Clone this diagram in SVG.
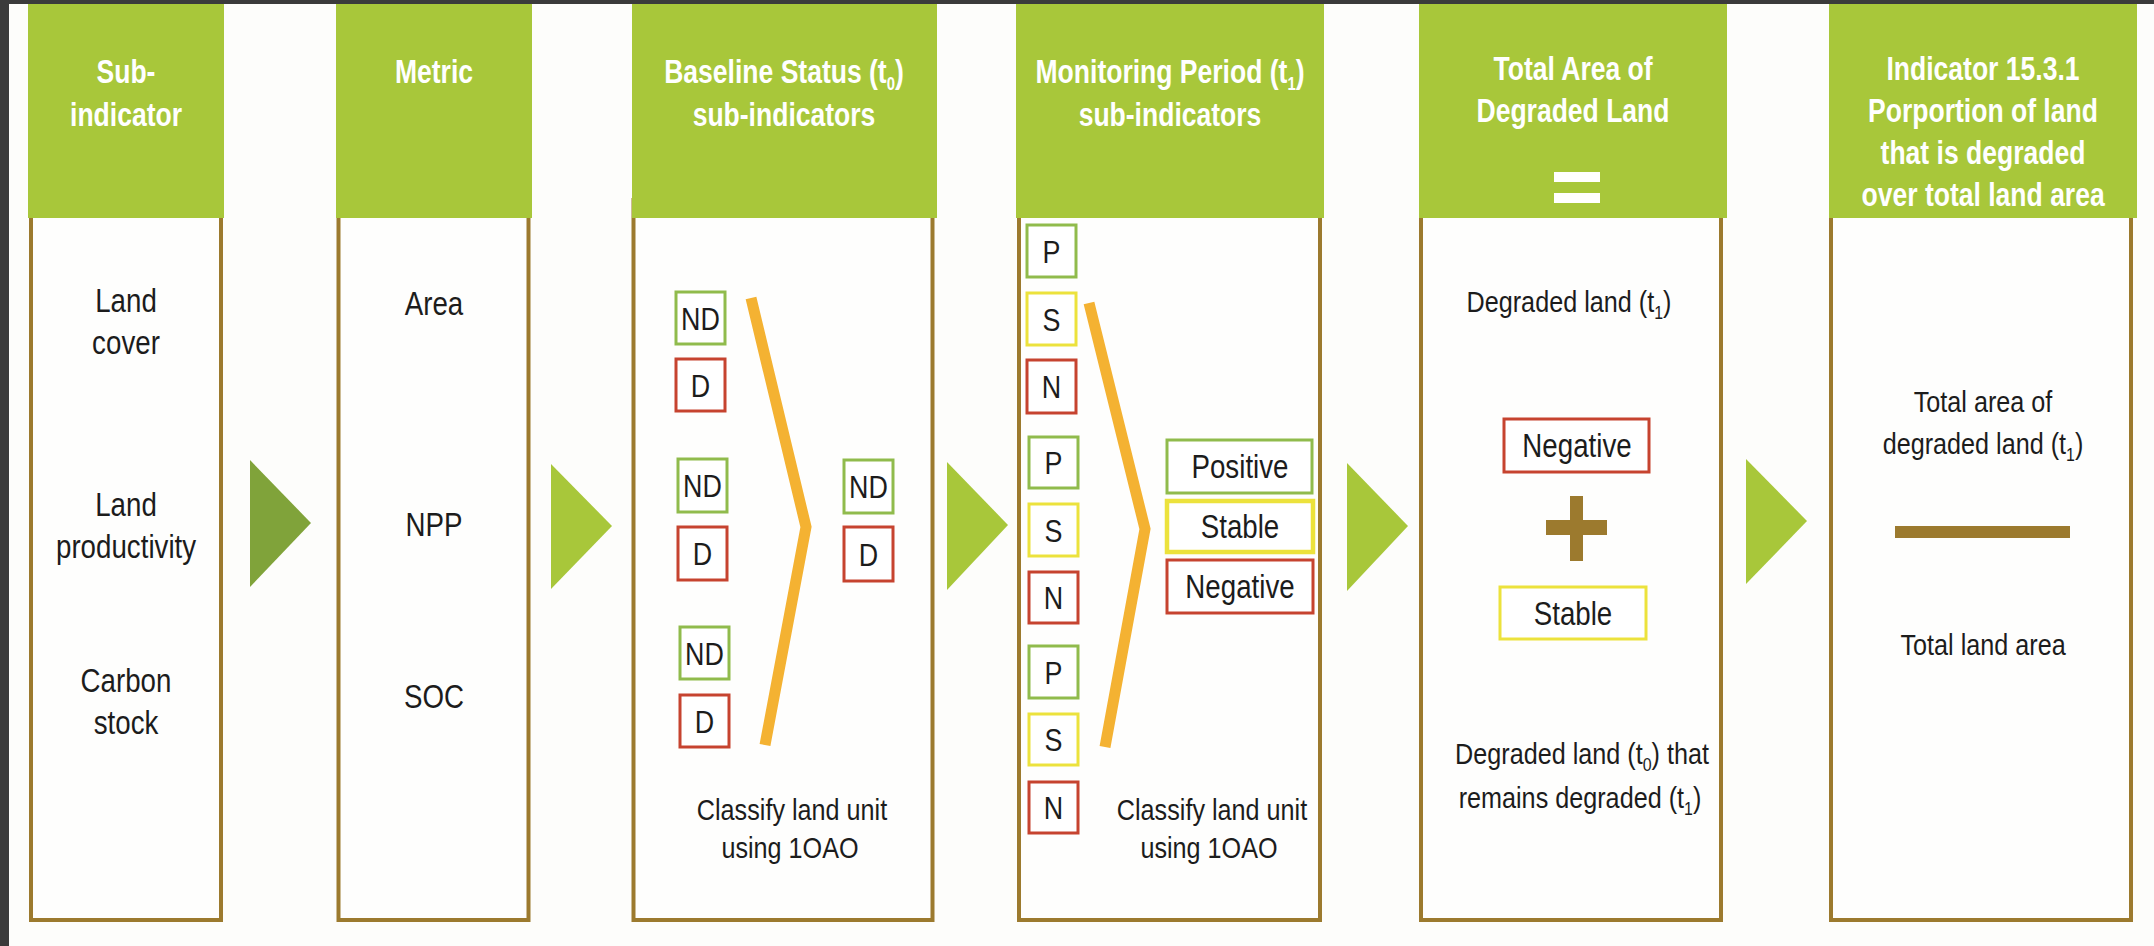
<svg xmlns="http://www.w3.org/2000/svg" width="2154" height="946" viewBox="0 0 2154 946">
<style>
.bg{fill:#fdfdfb}
.band{fill:#3b3b3b}
.head{fill:#a8c73a}
.body{fill:#fefefd;stroke:#9c7a2e;stroke-width:4}
.hd{font-family:"Liberation Sans",Arial,sans-serif;font-size:34px;font-weight:bold;fill:#ffffff;text-anchor:middle}
.bt{font-family:"Liberation Sans",Arial,sans-serif;font-size:30px;fill:#1c1c1c;text-anchor:middle}
.bl{font-size:33px}
.bx{font-size:32px}
.bw{font-size:33px}
text{transform-box:fill-box;transform-origin:center;transform:scaleX(0.84)}
text.hd{transform:scaleX(0.78)}
.sub{font-size:19px}
.g{fill:#ffffff;stroke:#90bb4c;stroke-width:3}
.r{fill:#ffffff;stroke:#c6432f;stroke-width:3}
.y{fill:#ffffff;stroke:#ece23c;stroke-width:3}
.y4{fill:#ffffff;stroke:#ece23c;stroke-width:4.5}
.chev{fill:none;stroke:#f4b232;stroke-width:11;stroke-linejoin:miter}
.brown{fill:#9c7a2e}
.arr{fill:#a8c73a}
.arr1{fill:#80a33a}
</style>
<rect class="bg" x="0" y="0" width="2154" height="946"/>
<rect class="band" x="0" y="0" width="2154" height="4"/>
<rect class="band" x="0" y="0" width="9" height="946"/>

<g id="col-subindicator">
<rect class="body" x="31" y="200" width="190" height="720"/>
<rect class="head" x="28" y="4" width="196" height="214"/>
<text class="hd" x="126" y="83">Sub-</text>
<text class="hd" x="126" y="126">indicator</text>
<text class="bt bl" x="126" y="312">Land</text>
<text class="bt bl" x="126" y="354">cover</text>
<text class="bt bl" x="126" y="516">Land</text>
<text class="bt bl" x="126" y="558">productivity</text>
<text class="bt bl" x="126" y="692">Carbon</text>
<text class="bt bl" x="126" y="734">stock</text>
</g>

<g id="col-metric">
<rect class="body" x="338.5" y="200" width="190" height="720"/>
<rect class="head" x="336" y="4" width="196" height="214"/>
<text class="hd" x="434" y="83">Metric</text>
<text class="bt bl" x="434" y="315">Area</text>
<text class="bt bl" x="434" y="536">NPP</text>
<text class="bt bl" x="434" y="708">SOC</text>
</g>

<g id="col-baseline">
<rect class="body" x="633.5" y="200" width="299" height="720"/>
<rect class="head" x="632" y="4" width="305" height="214"/>
<text class="hd" x="784" y="83">Baseline Status (t<tspan class="sub" dy="7">0</tspan><tspan dy="-7">)</tspan></text>
<text class="hd" x="784" y="126">sub-indicators</text>
<rect class="g" x="676" y="292" width="49" height="52"/>
<text class="bt bx" x="700.5" y="330">ND</text>
<rect class="r" x="676" y="359" width="49" height="52"/>
<text class="bt bx" x="700.5" y="397">D</text>
<rect class="g" x="678" y="459" width="49" height="53"/>
<text class="bt bx" x="702.5" y="497">ND</text>
<rect class="r" x="678" y="527" width="49" height="53"/>
<text class="bt bx" x="702.5" y="565">D</text>
<rect class="g" x="680" y="627" width="49" height="52"/>
<text class="bt bx" x="704.5" y="665">ND</text>
<rect class="r" x="680" y="695" width="49" height="52"/>
<text class="bt bx" x="704.5" y="733">D</text>
<polyline class="chev" points="751,298 806,527 765,745"/>
<rect class="g" x="844" y="460" width="49" height="53"/>
<text class="bt bx" x="868.5" y="498">ND</text>
<rect class="r" x="844" y="527" width="49" height="54"/>
<text class="bt bx" x="868.5" y="566">D</text>
<text class="bt" x="792" y="820">Classify land unit</text>
<text class="bt" x="790" y="858">using 1OAO</text>
</g>

<g id="col-monitoring">
<rect class="body" x="1019" y="200" width="301" height="720"/>
<rect class="head" x="1016" y="4" width="308" height="214"/>
<text class="hd" x="1170" y="83">Monitoring Period (t<tspan class="sub" dy="7">1</tspan><tspan dy="-7">)</tspan></text>
<text class="hd" x="1170" y="126">sub-indicators</text>
<rect class="g" x="1027" y="225" width="49" height="52"/>
<text class="bt bx" x="1051.5" y="263">P</text>
<rect class="y" x="1027" y="293" width="49" height="52"/>
<text class="bt bx" x="1051.5" y="331">S</text>
<rect class="r" x="1027" y="360" width="49" height="53"/>
<text class="bt bx" x="1051.5" y="398">N</text>
<rect class="g" x="1029" y="437" width="49" height="51"/>
<text class="bt bx" x="1053.5" y="474">P</text>
<rect class="y" x="1029" y="504" width="49" height="52"/>
<text class="bt bx" x="1053.5" y="542">S</text>
<rect class="r" x="1029" y="572" width="49" height="51"/>
<text class="bt bx" x="1053.5" y="609">N</text>
<rect class="g" x="1029" y="646" width="49" height="52"/>
<text class="bt bx" x="1053.5" y="684">P</text>
<rect class="y" x="1029" y="714" width="49" height="51"/>
<text class="bt bx" x="1053.5" y="751">S</text>
<rect class="r" x="1029" y="782" width="49" height="51"/>
<text class="bt bx" x="1053.5" y="819">N</text>
<polyline class="chev" points="1089,303 1145,529 1105,747"/>
<rect class="g" x="1167" y="440" width="145" height="53"/>
<text class="bt bw" x="1240" y="478">Positive</text>
<rect class="y4" x="1167" y="501" width="146" height="51"/>
<text class="bt bw" x="1240" y="538">Stable</text>
<rect class="r" x="1167" y="560" width="146" height="53"/>
<text class="bt bw" x="1240" y="598">Negative</text>
<text class="bt" x="1212" y="820">Classify land unit</text>
<text class="bt" x="1209" y="858">using 1OAO</text>
</g>

<g id="col-total-area">
<rect class="body" x="1421" y="200" width="300" height="720"/>
<rect class="head" x="1419" y="4" width="308" height="214"/>
<text class="hd" x="1573" y="80">Total Area of</text>
<text class="hd" x="1573" y="122">Degraded Land</text>
<rect fill="#ffffff" x="1554" y="172" width="46" height="10"/>
<rect fill="#ffffff" x="1554" y="193" width="46" height="10"/>
<text class="bt" x="1569" y="312">Degraded land (t<tspan class="sub" dy="7">1</tspan><tspan dy="-7">)</tspan></text>
<rect class="r" x="1504" y="419" width="145" height="53"/>
<text class="bt bw" x="1577" y="457">Negative</text>
<rect class="brown" x="1546" y="520" width="61" height="15"/>
<rect class="brown" x="1570" y="496" width="13" height="65"/>
<rect class="y" x="1500" y="587" width="146" height="52"/>
<text class="bt bw" x="1573" y="625">Stable</text>
<text class="bt" x="1582" y="764">Degraded land (t<tspan class="sub" dy="7">0</tspan><tspan dy="-7">) that</tspan></text>
<text class="bt" x="1580" y="808">remains degraded (t<tspan class="sub" dy="7">1</tspan><tspan dy="-7">)</tspan></text>
</g>

<g id="col-indicator">
<rect class="body" x="1831" y="200" width="300" height="720"/>
<rect class="head" x="1829" y="4" width="308" height="214"/>
<text class="hd" x="1983" y="80">Indicator 15.3.1</text>
<text class="hd" x="1983" y="122">Porportion of land</text>
<text class="hd" x="1983" y="164">that is degraded</text>
<text class="hd" x="1983" y="206">over total land area</text>
<text class="bt" x="1983" y="412">Total area of</text>
<text class="bt" x="1983" y="454">degraded land (t<tspan class="sub" dy="7">1</tspan><tspan dy="-7">)</tspan></text>
<rect class="brown" x="1895" y="526" width="175" height="12"/>
<text class="bt" x="1983" y="655">Total land area</text>
</g>

<g id="connectors">
<polygon class="arr1" points="250,460 311,523 250,587"/>
<polygon class="arr" points="551,464 612,526 551,589"/>
<polygon class="arr" points="947,462 1008,525 947,590"/>
<polygon class="arr" points="1347,463 1408,526 1347,591"/>
<polygon class="arr" points="1746,459 1807,521 1746,584"/>
</g>
</svg>
